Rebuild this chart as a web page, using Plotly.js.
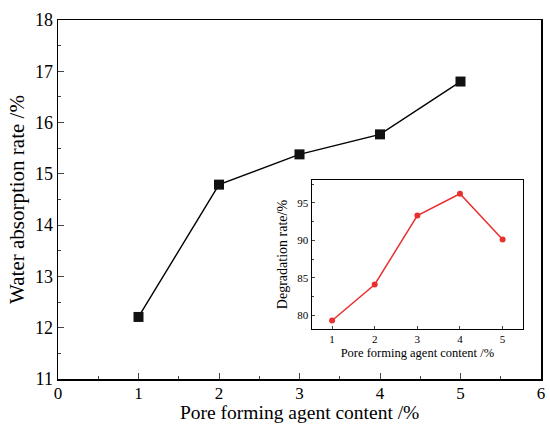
<!DOCTYPE html>
<html>
<head>
<meta charset="utf-8">
<script src="https://cdn.plot.ly/plotly-3.0.1.min.js"></script>
<style>body{margin:0;padding:0;background:#fff}#chart{width:550px;height:425px}</style>
</head>
<body>
<div id="chart"></div>
<script>
const content = [1, 2, 3, 4, 5];
const waterAbsorption = [12.21, 14.79, 15.38, 15.77, 16.80];
const insetContent = [1, 2, 3, 4, 5];
const degradation = [79.3, 84.1, 93.3, 96.2, 90.1];
const xTitle = 'Pore forming agent content /%';

const serif = "Liberation Serif, Times New Roman, serif";

const traces = [
  {x: content, y: waterAbsorption, type: 'scatter', mode: 'lines+markers',
   line: {color: '#000', width: 1.4}, marker: {symbol: 'square', size: 10, color: '#111'},
   xaxis: 'x', yaxis: 'y', showlegend: false},
  {x: insetContent, y: degradation, type: 'scatter', mode: 'lines+markers',
   line: {color: '#e8312f', width: 1.5}, marker: {symbol: 'circle', size: 6, color: '#e8312f'},
   xaxis: 'x2', yaxis: 'y2', showlegend: false}
];

const layout = {
  width: 550, height: 425,
  margin: {l: 57.5, r: 9, t: 19.5, b: 46, pad: 0},
  paper_bgcolor: '#fff', plot_bgcolor: '#fff',
  font: {family: serif, color: '#000'},
  xaxis: {
    range: [0, 6], dtick: 1, ticks: 'inside', ticklen: 6, tickwidth: 1,
    minor: {dtick: 0.5, ticks: 'inside', ticklen: 3, tickwidth: 1},
    showline: true, linecolor: '#000', linewidth: 1.5, mirror: true,
    showgrid: false, zeroline: false,
    tickfont: {family: serif, size: 17},
    ticklabelstandoff: -2,
    domain: [0, 1]
  },
  yaxis: {
    range: [11, 18], dtick: 1, ticks: 'inside', ticklen: 6, tickwidth: 1,
    minor: {dtick: 0.5, ticks: 'inside', ticklen: 3, tickwidth: 1},
    showline: true, linecolor: '#000', linewidth: 1.5, mirror: true,
    showgrid: false, zeroline: false,
    tickfont: {family: serif, size: 18},
    title: {text: 'Water absorption rate /%', font: {family: serif, size: 21}, standoff: 4},
    domain: [0, 1]
  },
  xaxis2: {
    anchor: 'y2', domain: [0.526, 0.962],
    range: [0.53, 5.47], dtick: 1, ticks: 'inside', ticklen: 3, tickwidth: 1,
    showline: true, linecolor: '#000', linewidth: 1.5, mirror: true,
    showgrid: false, zeroline: false,
    tickfont: {family: serif, size: 11},
    title: {text: xTitle, font: {family: serif, size: 12.5}, standoff: 4}
  },
  yaxis2: {
    anchor: 'x2', domain: [0.14, 0.5535],
    range: [78.2, 98], dtick: 5, ticks: 'inside', ticklen: 3, tickwidth: 1,
    minor: {dtick: 2.5, ticks: 'inside', ticklen: 2, tickwidth: 1},
    showline: true, linecolor: '#000', linewidth: 1.5, mirror: true,
    showgrid: false, zeroline: false,
    tickfont: {family: serif, size: 11},
    title: {text: 'Degradation rate/%', font: {family: serif, size: 14}, standoff: 6}
  },
  annotations: [{
    text: xTitle, xref: 'paper', yref: 'paper', x: 0.5, y: -45.5 / 359.5,
    xanchor: 'center', yanchor: 'bottom', showarrow: false, borderpad: 0,
    font: {family: serif, size: 19.5, color: '#000'}
  }]
};

Plotly.newPlot('chart', traces, layout, {displayModeBar: false, staticPlot: true});
</script>
</body>
</html>
